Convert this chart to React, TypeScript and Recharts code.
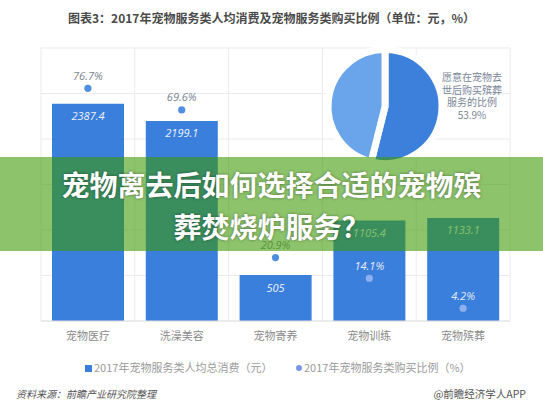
import React from 'react';
import { ComposedChart, Bar, Line, XAxis, YAxis, CartesianGrid, LabelList, PieChart, Pie, Cell } from 'recharts';

const categories = ['宠物医疗', '洗澡美容', '宠物寄养', '宠物训练', '宠物殡葬'];
const spend = [2387.4, 2199.1, 505, 1105.4, 1133.1];
const buyRate = [76.7, 69.6, 20.9, 14.1, 4.2];
const spendTicks = [0, 500, 1000, 1500, 2000, 2500, 3000];
const rateDomain = [0, 90];
const pieNames = ['愿意在宠物去世后购买殡葬服务的比例', '其他'];
const pieShare = [53.9, 46.1];

const titleText = '图表3：2017年宠物服务类人均消费及宠物服务类购买比例（单位：元，%）';
const bannerLines = ['宠物离去后如何选择合适的宠物殡', '葬焚烧炉服务？'];
const pieLabelLines = ['愿意在宠物去', '世后购买殡葬', '服务的比例', '53.9%'];
const legendSpend = '2017年宠物服务类人均总消费（元）';
const legendRate = '2017年宠物服务类购买比例（%）';
const sourceText = '资料来源：前瞻产业研究院整理';
const brandText = '@前瞻经济学人APP';

const data = categories.map((c, i) => ({ name: c, spend: spend[i], rate: buyRate[i] }));
const pieData = pieNames.map((n, i) => ({ name: n, value: pieShare[i] }));

const SPEND_MAX = spendTicks[spendTicks.length - 1];
const RATE_MAX = rateDomain[1];
const onBar = (i: number) => buyRate[i] / RATE_MAX < spend[i] / SPEND_MAX;

const FONT = '"Noto Sans CJK SC", "Noto Sans", sans-serif';
const BAR_COLOR = '#3b7fdd';

const RateDot = (props: any) => {
  const { cx, cy, index } = props;
  if (cx == null || cy == null) return null;
  return <circle cx={cx} cy={cy} r={3.6} fill={onBar(index) ? '#8fb0ee' : '#4f8fe0'} />;
};

const RateLabel = (props: any) => {
  const { x, y, value, index } = props;
  return (
    <text x={x} y={y - 13} textAnchor="middle" dominantBaseline="central" fontSize={11} fontStyle="italic"
      fill={onBar(index) ? '#e6ecfa' : '#7b8390'} fontFamily={'"Open Sans", sans-serif'}>
      {value}%
    </text>
  );
};

const SpendLabel = (props: any) => {
  const { x, y, width, value } = props;
  return (
    <text x={x + width / 2} y={y + 12} textAnchor="middle" dominantBaseline="central" fontSize={11} fontStyle="italic"
      fill="#eef3fc" fontFamily={'"Open Sans", sans-serif'}>
      {value}
    </text>
  );
};

export default function App() {
  return (
    <div style={{ position: 'absolute', left: 0, top: 0, width: 543, height: 408, background: '#fff', overflow: 'hidden', fontFamily: FONT }}>
      <div style={{ position: 'absolute', left: 0, top: 9, width: 543, textAlign: 'center', fontSize: 12, fontWeight: 700, color: '#4a4a4a', lineHeight: '18px' }}>
        {titleText}
      </div>
      <ComposedChart width={543} height={408} data={data} margin={{ top: 48, right: 33, left: 41, bottom: 57 }}
        style={{ position: 'absolute', left: 0, top: 0 }}>
        <CartesianGrid stroke="#ebebeb"
          verticalCoordinatesGenerator={({ offset }: any) => [0, 1, 2, 3, 4, 5].map((i) => offset.left + (i * offset.width) / 5)}
          horizontalCoordinatesGenerator={({ offset }: any) => spendTicks.map((_, i) => offset.top + (i * offset.height) / (spendTicks.length - 1))}
        />
        <XAxis dataKey="name" height={30} tickLine={false} axisLine={{ stroke: '#e2e2e2' }} tickMargin={5}
          tick={{ fontSize: 11, fill: '#8a8a8a', fontFamily: FONT }} interval={0} />
        <YAxis yAxisId="spend" hide domain={[0, SPEND_MAX]} ticks={spendTicks} width={0} />
        <YAxis yAxisId="rate" hide orientation="right" domain={rateDomain} width={0} />
        <Bar yAxisId="spend" dataKey="spend" fill={BAR_COLOR} barSize={72} isAnimationActive={false}>
          <LabelList dataKey="spend" content={SpendLabel} />
        </Bar>
        <Line yAxisId="rate" dataKey="rate" stroke="none" dot={RateDot} activeDot={false} isAnimationActive={false}>
          <LabelList dataKey="rate" content={RateLabel} />
        </Line>
      </ComposedChart>
      <PieChart width={543} height={170} style={{ position: 'absolute', left: 0, top: 0 }}>
        <Pie data={pieData} dataKey="value" cx={380} cy={101.5} outerRadius={57} startAngle={90} endAngle={-270}
          stroke="#ffffff" strokeWidth={7} isAnimationActive={false}>
          <Cell fill="#3d80dc" />
          <Cell fill="#6aa4ea" />
        </Pie>
      </PieChart>
      <div style={{ position: 'absolute', left: 432, top: 71, width: 80, textAlign: 'center', fontSize: 10, lineHeight: '12.5px', color: '#7a8598' }}>
        {pieLabelLines.map((l, i) => <div key={i}>{l}</div>)}
      </div>
      <div style={{ position: 'absolute', left: 0, top: 157, width: 543, height: 94, background: 'rgba(59,153,0,0.58)' }} />
      <div style={{ position: 'absolute', left: 0, top: 163, width: 543, textAlign: 'center', fontSize: 28, fontWeight: 700, lineHeight: '42px', color: '#ffffff', textShadow: '0 0 3px rgba(0,0,0,0.45)' }}>
        {bannerLines.map((l, i) => <div key={i}>{l}</div>)}
      </div>
      <div style={{ position: 'absolute', left: 85, top: 359, fontSize: 11, color: '#9a9a9a', lineHeight: '16px', whiteSpace: 'nowrap' }}>
        <span style={{ display: 'inline-block', width: 7, height: 7, background: BAR_COLOR, marginRight: 2, verticalAlign: 'middle', position: 'relative', top: -1 }} />
        {legendSpend}
      </div>
      <div style={{ position: 'absolute', left: 296, top: 359, fontSize: 11, color: '#9a9a9a', lineHeight: '16px', whiteSpace: 'nowrap' }}>
        <span style={{ display: 'inline-block', width: 6, height: 6, borderRadius: 3, background: '#7c92e2', marginRight: 2, verticalAlign: 'middle', position: 'relative', top: -1 }} />
        {legendRate}
      </div>
      <div style={{ position: 'absolute', left: 16, top: 386, fontSize: 10, fontStyle: 'italic', color: '#555', lineHeight: '16px', whiteSpace: 'nowrap' }}>
        {sourceText}
      </div>
      <div style={{ position: 'absolute', right: 17, top: 386, fontSize: 10.5, color: '#555', lineHeight: '16px', whiteSpace: 'nowrap' }}>
        {brandText}
      </div>
    </div>
  );
}
